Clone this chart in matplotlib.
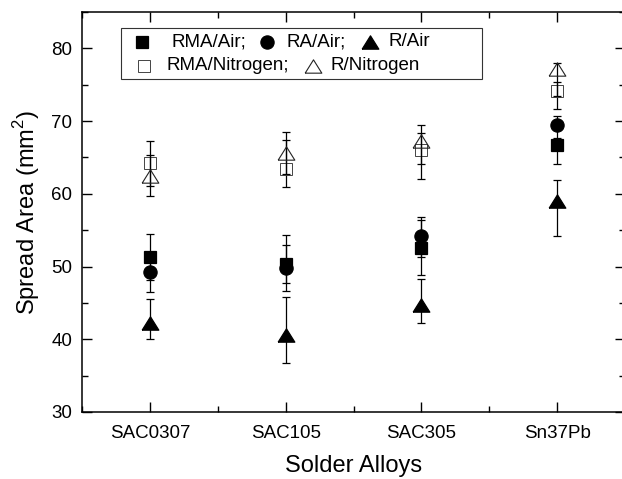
import matplotlib
matplotlib.use("Agg")
import matplotlib.pyplot as plt
from matplotlib.lines import Line2D
from matplotlib.offsetbox import (AnchoredOffsetbox, DrawingArea, HPacker,
                                  TextArea, VPacker)
from matplotlib.ticker import MultipleLocator

plt.rcParams['font.family'] = ['Liberation Sans', 'DejaVu Sans']
plt.rcParams['mathtext.fontset'] = 'custom'
plt.rcParams['mathtext.rm'] = 'Liberation Sans'

alloys = ["SAC0307", "SAC105", "SAC305", "Sn37Pb"]

# mean spread area (mm^2) and lower / upper error
rma_air = [51.3, 50.3, 52.6, 66.7]
rma_air_lo = [3.2, 2.5, 3.8, 2.6]
rma_air_hi = [3.2, 4.0, 3.8, 1.0]

ra_air = [49.2, 49.8, 54.2, 69.5]
ra_air_lo = [2.7, 3.2, 2.9, 1.9]
ra_air_hi = [2.7, 3.2, 2.6, 1.2]

r_air = [42.2, 40.6, 44.7, 59.0]
r_air_lo = [2.1, 3.8, 2.5, 4.8]
r_air_hi = [3.3, 5.2, 3.6, 2.9]

rma_n2 = [64.2, 63.4, 66.0, 74.2]
rma_n2_lo = [3.1, 2.4, 3.9, 2.6]
rma_n2_hi = [3.1, 4.0, 3.5, 1.2]

r_n2 = [62.5, 65.6, 67.3, 77.1]
r_n2_lo = [2.8, 2.9, 3.2, 3.7]
r_n2_hi = [2.8, 2.9, 1.0, 0.9]

x = list(range(1, len(alloys) + 1))

# flatter triangle, like the Origin one
tri = [(-1, -0.8), (1, -0.8), (0, 0.8), (-1, -0.8)]

fig = plt.figure(figsize=(6.22, 4.79), dpi=100)
ax = fig.add_axes([82 / 622, 1 - 412 / 479, 543 / 622, 400 / 479])

series = [
    (rma_n2, rma_n2_lo, rma_n2_hi, 's', 8.5, 'none', '#444444', 0.7, 'RMA/Nitrogen;'),
    (r_n2, r_n2_lo, r_n2_hi, tri, 12, 'none', '#222222', 0.8, 'R/Nitrogen'),
    (rma_air, rma_air_lo, rma_air_hi, 's', 8.5, 'black', 'black', 0.9, 'RMA/Air;'),
    (ra_air, ra_air_lo, ra_air_hi, 'o', 9.5, 'black', 'black', 0.9, 'RA/Air;'),
    (r_air, r_air_lo, r_air_hi, tri, 12, 'black', 'black', 0.9, 'R/Air'),
]
handles = {}
for vals, lo, hi, mk, ms, fc, ec, mw, label in series:
    ax.errorbar(x, vals, yerr=[lo, hi], fmt='none', ecolor='black',
                elinewidth=0.9, capsize=3, capthick=0.9)
    ax.plot(x, vals, ls='none', marker=mk, ms=ms, mfc=fc, mec=ec, mew=mw)
    handles[label] = (mk, ms, fc, ec, mw)

ax.set_xlim(0.5, 4.5)
ax.set_ylim(30, 85)
ax.set_xticks(x)
ax.set_xticklabels(alloys)
ax.xaxis.set_minor_locator(MultipleLocator(0.5))
ax.yaxis.set_minor_locator(MultipleLocator(5))
ax.set_yticks([30, 40, 50, 60, 70, 80])
ax.tick_params(which='both', direction='in', top=True, right=True,
               labelsize=13.5, width=1)
ax.tick_params(which='major', length=7)
ax.tick_params(which='minor', length=4)
ax.tick_params(axis='x', pad=9)
ax.tick_params(axis='y', pad=7)
for s in ax.spines.values():
    s.set_linewidth(1.1)

ax.set_xlabel("Solder Alloys", fontsize=17, labelpad=10)
ax.set_ylabel(r"Spread Area (mm$^2$)", fontsize=17, labelpad=7)

PX = 0.72  # points per pixel at 100 dpi


def legend_item(label, before, after):
    mk, ms, fc, ec, mw = handles[label]
    da = DrawingArea((before + after) * PX, 14, 0, 0)
    da.add_artist(Line2D([before * PX], [7], marker=mk, ms=ms, mfc=fc,
                         mec=ec, mew=mw, ls='none'))
    return [da, TextArea(label, textprops=dict(fontsize=13.5))]


def spacer(w):
    return DrawingArea(w * PX, 14, 0, 0)


row1 = HPacker(children=legend_item('RMA/Air;', 17, 29)
               + legend_item('RA/Air;', 21, 19)
               + legend_item('R/Air', 25, 18) + [spacer(48)],
               sep=0, align='center', pad=0)
row2 = HPacker(children=legend_item('RMA/Nitrogen;', 19, 22)
               + legend_item('R/Nitrogen', 24, 18),
               sep=0, align='center', pad=0)
box = VPacker(children=[row1, row2], sep=3, align='left', pad=0)
leg = AnchoredOffsetbox(loc='upper left', child=box, pad=0.3, borderpad=0,
                        frameon=True, bbox_to_anchor=(0.072, 0.96),
                        bbox_transform=ax.transAxes)
leg.patch.set_linewidth(0.8)
leg.patch.set_edgecolor('#333333')
ax.add_artist(leg)

fig.savefig("out.png", dpi=100)
